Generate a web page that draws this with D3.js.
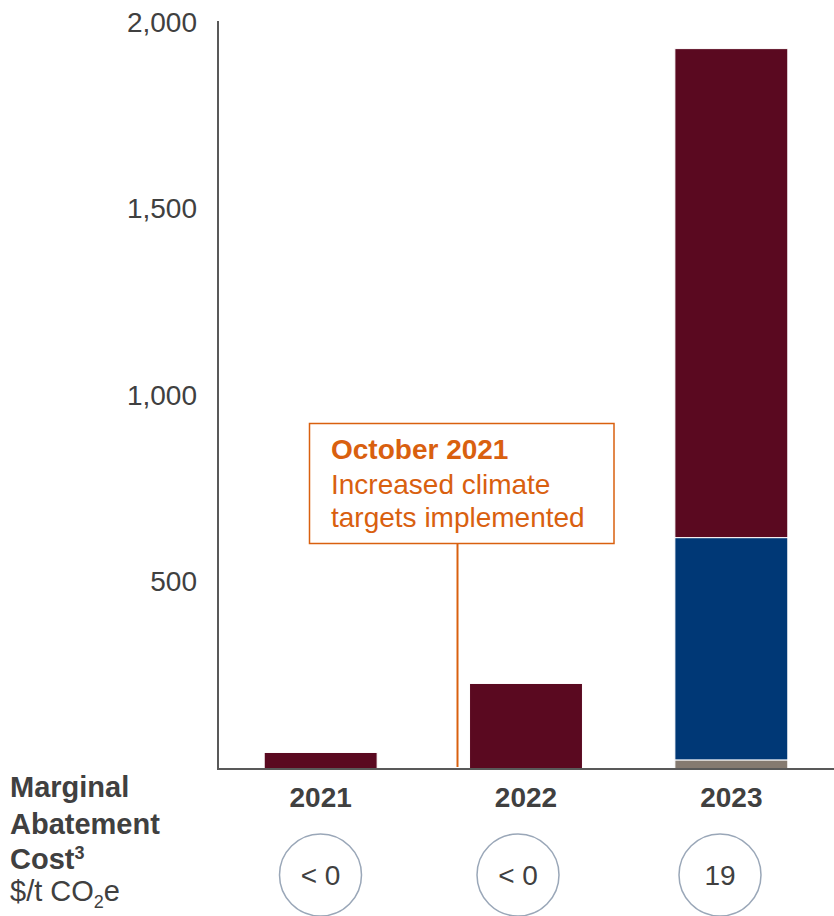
<!DOCTYPE html>
<html>
<head>
<meta charset="utf-8">
<script src="https://cdn.jsdelivr.net/npm/d3@7"></script>
<style>
  html, body { margin: 0; padding: 0; background: #ffffff; }
  svg { display: block; font-family: "Liberation Sans", Arial, sans-serif; }
</style>
</head>
<body>
<svg id="chart" width="834" height="916"></svg>
<script>
// Years on the x axis
const years = ["2021", "2022", "2023"];
// Stacked components, bottom to top
const grayValues   = [0, 0, 23];
const blueValues   = [0, 0, 596];
const maroonValues = [43, 228, 1311];
// Marginal abatement cost per year ($/t CO2e)
const costLabels = ["< 0", "< 0", "19"];
// Y-axis ticks
const yTicks = [500, 1000, 1500, 2000];

const seriesKeys = ["gray", "blue", "maroon"];
const seriesColors = { gray: "#857a70", blue: "#003876", maroon: "#5a0920" };

const rows = years.map((y, i) => ({
  year: y, gray: grayValues[i], blue: blueValues[i], maroon: maroonValues[i]
}));

const svg = d3.select("#chart");
const textColor = "#404040";
const orange = "#d9600f";
const fontSize = 28;

const x = d3.scaleBand().domain(years).range([218, 834])
  .paddingInner(0.45).paddingOuter(0.225);
const y = d3.scaleLinear().domain([0, 2000]).range([768.5, 22.5]);

// Stacked bars
const stack = d3.stack().keys(seriesKeys)(rows);
svg.append("g").selectAll("g").data(stack).join("g")
  .attr("fill", d => seriesColors[d.key])
  .selectAll("rect").data(d => d.filter(s => s[1] - s[0] > 0)).join("rect")
  .attr("x", d => x(d.data.year))
  .attr("width", x.bandwidth())
  .attr("y", d => y(d[1]))
  .attr("height", d => y(d[0]) - y(d[1]))
  .attr("stroke", "#ffffff")
  .attr("stroke-width", 1);

// Y axis
const yAxis = d3.axisLeft(y).tickValues(yTicks).tickSize(0).tickPadding(21)
  .tickFormat(d3.format(","));
const gy = svg.append("g").attr("transform", "translate(218,0)").call(yAxis);
gy.select(".domain").remove();
gy.selectAll("text").attr("fill", textColor).attr("font-size", fontSize)
  .attr("font-family", "'Liberation Sans', Arial, sans-serif");
svg.append("line").attr("x1", 218).attr("x2", 218).attr("y1", 21).attr("y2", 769)
  .attr("stroke", "#595959").attr("stroke-width", 2);

// Baseline
svg.append("line").attr("x1", 217).attr("x2", 834).attr("y1", 769).attr("y2", 769)
  .attr("stroke", "#595959").attr("stroke-width", 2);

// Year labels
const xAxis = d3.axisBottom(x).tickSize(0).tickPadding(18);
const gx = svg.append("g").attr("transform", "translate(0,769)").call(xAxis);
gx.select(".domain").remove();
gx.selectAll("text").attr("fill", textColor).attr("font-size", fontSize)
  .attr("font-weight", "bold")
  .attr("font-family", "'Liberation Sans', Arial, sans-serif");

// Annotation: policy change marker
const markerX = 457.5;
svg.append("line").attr("x1", markerX).attr("x2", markerX)
  .attr("y1", 544).attr("y2", 767)
  .attr("stroke", orange).attr("stroke-width", 2);
svg.append("rect").attr("x", 309.5).attr("y", 423.5).attr("width", 304.5).attr("height", 120)
  .attr("fill", "#ffffff").attr("stroke", orange).attr("stroke-width", 1.5);
const note = svg.append("text").attr("fill", orange).attr("font-size", fontSize);
note.append("tspan").attr("x", 331).attr("y", 459).attr("font-weight", "bold").text("October 2021");
note.append("tspan").attr("x", 331).attr("y", 494).text("Increased climate");
note.append("tspan").attr("x", 331).attr("y", 527).text("targets implemented");

// Marginal abatement cost row
const circleX = [320.5, 518, 720];
const costs = svg.append("g").selectAll("g").data(costLabels).join("g")
  .attr("transform", (d, i) => `translate(${circleX[i]},875)`);
costs.append("circle").attr("r", 41).attr("fill", "#ffffff")
  .attr("stroke", "#9aa7b8").attr("stroke-width", 1.5);
costs.append("text").attr("text-anchor", "middle").attr("dy", "0.36em")
  .attr("fill", textColor).attr("font-size", fontSize).text(d => d);

// Row title
const titleSize = 29;
const title = svg.append("text").attr("fill", textColor).attr("font-size", titleSize);
title.append("tspan").attr("x", 10).attr("y", 797).attr("font-weight", "bold").text("Marginal");
title.append("tspan").attr("x", 10).attr("y", 834).attr("font-weight", "bold").text("Abatement");
title.append("tspan").attr("x", 10).attr("y", 869).attr("font-weight", "bold").text("Cost");
title.append("tspan").attr("font-weight", "bold").attr("font-size", 18).attr("dy", -10).text("3");
const unit = svg.append("text").attr("fill", textColor).attr("font-size", titleSize).attr("x", 10).attr("y", 901);
unit.append("tspan").text("$/t CO");
unit.append("tspan").attr("font-size", 18).attr("dy", 7).text("2");
unit.append("tspan").attr("dy", -7).text("e");
</script>
</body>
</html>
